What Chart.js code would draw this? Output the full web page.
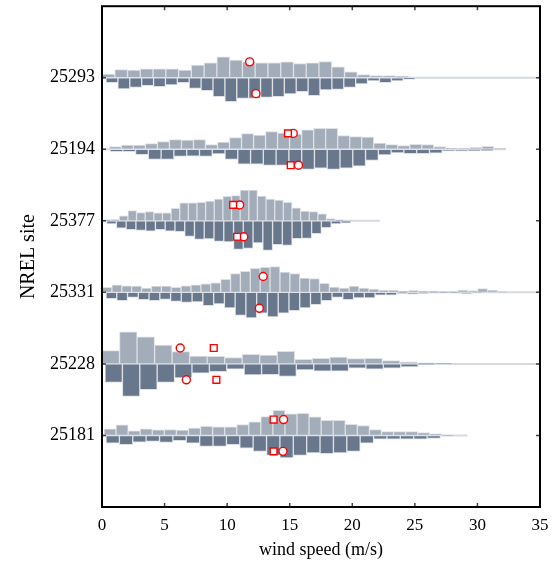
<!DOCTYPE html>
<html>
<head>
<meta charset="utf-8">
<script src="https://cdn.jsdelivr.net/npm/chart.js@4.4.0/dist/chart.umd.min.js"></script>
<style>
  html, body { margin: 0; padding: 0; background: #fff; }
  #wrap { width: 560px; height: 567px; }
</style>
</head>
<body>
<div id="wrap"><canvas id="windChart"></canvas></div>
<script>
// Sites, listed top to bottom
const sites = ["25293", "25194", "25377", "25331", "25228", "25181"];

// Upper histogram (light) per site: first bin edge, bin width (m/s), bin frequencies
const upperStart = [0, 0.59, 0, 0, 0, 0.16];
const upperWidth = [1.02, 0.96, 0.69, 0.79, 1.40, 0.964];
const upperFreq = [
    [3.7, 8.3, 7.7, 9, 9, 9, 7.7, 12.7, 15, 21, 17.7, 16, 15, 15, 16, 14.3, 15, 16.3, 11, 6, 3.3, 2.3, 2.3, 1.7],
    [2.7, 4.3, 4.3, 5.7, 7.7, 9.7, 9.3, 9.7, 4.7, 7.3, 11.7, 15.7, 14.3, 17.7, 16.3, 15.3, 19.7, 21, 21, 13.7, 12.7, 12.3, 6.3, 4.7, 3.7, 5, 4.7, 2.7, 1, 0.7, 2, 3, 0.7],
    [1, 1.3, 5, 10.3, 8.3, 9.3, 8, 8, 12.7, 18, 18, 18.7, 20, 22, 24.7, 25.3, 31, 31, 25, 22, 21, 18.7, 13, 9.7, 9.3, 7, 2.3, 1],
    [5, 7.7, 6.7, 6.3, 4.3, 6.3, 6.3, 5, 6.7, 7.7, 8.7, 9.7, 13, 19, 21.3, 24.3, 25.3, 26, 20.3, 19, 14.3, 14, 9, 5.3, 4.3, 6.3, 4.3, 3.3, 2.3, 2.3, 1, 2, 1.3, 1.3, 0.7, 0.7, 2.3, 1.7, 3.7, 2.3, 0.7],
    [13.3, 32.3, 27.3, 19, 12.3, 8, 7.7, 6.3, 9.7, 9, 12.7, 4.7, 5.7, 7, 5.3, 5.7, 3.3, 2, 1, 0.7],
    [6.7, 10.7, 4.7, 6.7, 5.7, 6, 5.3, 7.3, 9.3, 8.7, 8.7, 11, 13.7, 19, 25.3, 21.7, 22.3, 18.7, 15.3, 15.3, 11.3, 10, 6, 4, 4, 4, 3, 1.7, 0.3]
];

// Lower histogram (dark) per site
const lowerStart = [0.32, 0.64, 0.37, 0.32, 0.24, 0.32];
const lowerWidth = [0.95, 1.021, 0.78, 0.86, 1.39, 1.069];
const lowerFreq = [
    [5, 11.3, 9.7, 8, 9, 7.3, 5, 10.7, 13, 19, 24, 20.7, 20.7, 19.7, 19, 16.3, 14, 18, 12.3, 11.7, 9.7, 6.3, 3.3, 5, 3.3, 1.7],
    [2.3, 2.3, 5.3, 10.3, 10.3, 7.3, 7, 7.3, 4.7, 10.3, 15, 15, 16.3, 16.3, 16.3, 20.3, 19, 20.3, 19, 17, 11.3, 5.7, 3.7, 4.3, 4.3, 4, 2, 2, 1.7, 1.3],
    [3, 7.3, 9, 9.7, 10.3, 9, 10.3, 11, 15.7, 18.7, 18.3, 20.7, 21.3, 28.7, 27.7, 22.3, 29.7, 24, 24.7, 18, 17.7, 13, 7, 3, 2.3],
    [6.3, 8.3, 5, 7.3, 8.3, 7, 9, 10, 9.7, 13.3, 11.7, 15.7, 23.3, 25.7, 21, 24.7, 21, 18.3, 15.7, 12.3, 8.3, 5, 7.3, 5.7, 5.7, 2.7, 2.7, 1, 1.7, 1, 0.7, 0.3, 0.7, 1.3, 0.3],
    [18.7, 32.7, 26, 18.7, 14, 9.3, 7.7, 5.3, 11, 10.7, 12.7, 6, 7.3, 7.3, 4.3, 5.3, 4.3, 3, 0.3],
    [7.7, 9.3, 6.7, 6, 7, 5.3, 7.7, 11, 11, 9.3, 12.7, 16, 20, 22.7, 20, 17.7, 18.3, 17.7, 16, 7.7, 3.7, 3.7, 3.7, 3.7, 3]
];

// Largest observed wind speed per site (thin tail beyond the last bin)
const maxSpeed = [35, 32.3, 22.2, 34.9, 35, 29.2];

// Mean (circle) and median (square) markers, upper and lower halves
const upperMean = [11.8, 15.28, 11.0, 12.88, 6.25, 14.51];
const upperMedian = [null, 14.86, 10.48, null, 8.93, 13.71];
const lowerMean = [12.3, 15.7, 11.33, 12.57, 6.74, 14.46];
const lowerMedian = [null, 15.08, 10.8, null, 9.14, 13.71];

const xTicks = [0, 5, 10, 15, 20, 25, 30, 35];

// frequency units per category band, marker offset from baseline
const FREQ_PER_BAND = 72;
const MARK_OFFSET = 16 / FREQ_PER_BAND;

const UPPER_COLOR = '#a3acb9';
const LOWER_COLOR = '#68778c';
const EDGE_COLOR = '#dde0e6';
const SERIF = "'Liberation Serif', 'Times New Roman', serif";

function baseOf(i) { return sites.length - i; }

function histData(i, start, width, freq, sign) {
    const b = baseOf(i);
    return freq.map((f, k) => ({
        x: start + (k + 0.5) * width,
        y: [b, b + sign * f / FREQ_PER_BAND]
    }));
}

const datasets = [];
const binWidths = [];

sites.forEach((s, i) => {
    datasets.push({
        type: 'bar', label: s + ' upper', order: 1,
        data: histData(i, upperStart[i], upperWidth[i], upperFreq[i], 1),
        backgroundColor: UPPER_COLOR, borderColor: EDGE_COLOR,
        borderWidth: 1, borderSkipped: false, grouped: false
    });
    binWidths.push(upperWidth[i]);
    datasets.push({
        type: 'bar', label: s + ' lower', order: 1,
        data: histData(i, lowerStart[i], lowerWidth[i], lowerFreq[i], -1),
        backgroundColor: LOWER_COLOR, borderColor: EDGE_COLOR,
        borderWidth: 1, borderSkipped: false, grouped: false
    });
    binWidths.push(lowerWidth[i]);
    datasets.push({
        type: 'line', label: s + ' range', order: 2,
        data: [{ x: 0, y: baseOf(i) }, { x: maxSpeed[i], y: baseOf(i) }],
        borderColor: '#d6dae0', borderWidth: 2, pointRadius: 0
    });
});

function markers(xs, sign, style, radius) {
    const pts = [];
    xs.forEach((x, i) => {
        if (x !== null) pts.push({ x: x, y: baseOf(i) + sign * MARK_OFFSET });
    });
    return {
        type: 'line', showLine: false, order: 0, data: pts,
        pointStyle: style, pointRadius: radius,
        pointBackgroundColor: '#ffffff', pointBorderColor: '#ff0000', pointBorderWidth: 1.4
    };
}
datasets.push(markers(upperMedian, 1, 'rect', 4.8));
datasets.push(markers(lowerMedian, -1, 'rect', 4.8));
datasets.push(markers(upperMean, 1, 'circle', 4));
datasets.push(markers(lowerMean, -1, 'circle', 4));

// frame with inward tick marks
const framePlugin = {
    id: 'frame',
    afterDatasetsDraw(chart) {
        const { ctx, chartArea: a, scales } = chart;
        ctx.save();
        ctx.strokeStyle = '#444';
        ctx.lineWidth = 1.5;
        ctx.beginPath();
        xTicks.forEach(v => {
            const px = scales.x.getPixelForValue(v);
            ctx.moveTo(px, a.bottom); ctx.lineTo(px, a.bottom - 4);
            ctx.moveTo(px, a.top); ctx.lineTo(px, a.top + 4);
        });
        sites.forEach((s, i) => {
            const py = scales.y.getPixelForValue(baseOf(i));
            ctx.moveTo(a.left, py); ctx.lineTo(a.left + 4, py);
            ctx.moveTo(a.right, py); ctx.lineTo(a.right - 4, py);
        });
        ctx.stroke();
        ctx.strokeStyle = '#000';
        ctx.lineWidth = 2;
        ctx.strokeRect(a.left, a.top, a.right - a.left, a.bottom - a.top);
        ctx.restore();
    }
};

const chart = new Chart(document.getElementById('windChart').getContext('2d'), {
    type: 'bar',
    data: { datasets: datasets },
    options: {
        responsive: true,
        maintainAspectRatio: false,
        animation: false,
        layout: { padding: { top: -3, right: 20, bottom: 0, left: 0 } },
        plugins: { legend: { display: false }, tooltip: { enabled: false } },
        scales: {
            x: {
                type: 'linear', min: 0, max: 35, offset: false,
                afterBuildTicks: sc => { sc.ticks = xTicks.map(v => ({ value: v })); },
                afterFit: sc => { sc.height = 60; },
                grid: { display: false, drawTicks: false },
                border: { display: false },
                ticks: { color: '#000', padding: 8, maxRotation: 0, font: { family: SERIF, size: 17 } },
                title: { display: true, text: 'wind speed (m/s)', color: '#000', padding: { top: 0, bottom: 6 }, font: { family: SERIF, size: 18 } }
            },
            y: {
                type: 'linear', min: 0, max: 7,
                afterBuildTicks: sc => { sc.ticks = sites.map((s, i) => ({ value: baseOf(i) })); },
                afterFit: sc => { sc.width = 102; sc.paddingTop = 0; sc.paddingBottom = 0; },
                grid: { display: false, drawTicks: false },
                border: { display: false },
                ticks: {
                    color: '#000', padding: 7, font: { family: SERIF, size: 18 },
                    callback: v => sites[sites.length - v]
                },
                title: { display: true, text: 'NREL site', color: '#000', padding: { top: 17, bottom: 0 }, font: { family: SERIF, size: 20 } }
            }
        }
    },
    plugins: [framePlugin]
});

// bar widths follow each histogram's bin width on the x scale
const xs = chart.scales.x;
let di = 0;
chart.data.datasets.forEach(ds => {
    if (ds.type === 'bar') {
        const w = binWidths[di++];
        ds.barThickness = xs.getPixelForValue(w) - xs.getPixelForValue(0);
    }
});
chart.update();
</script>
</body>
</html>
